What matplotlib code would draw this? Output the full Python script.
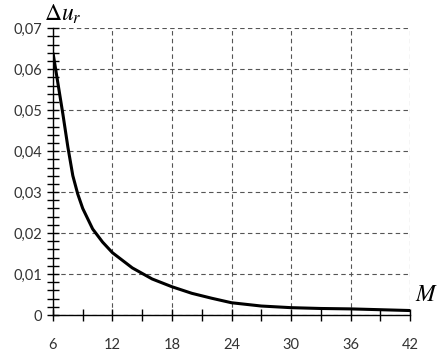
import matplotlib
matplotlib.use("Agg")
import matplotlib.pyplot as plt
from matplotlib.ticker import MultipleLocator, FuncFormatter

# значения
M = [6, 7, 7.5, 8, 8.5, 9, 10, 11, 12, 14, 16, 18, 20, 22, 24, 27, 30, 33, 36, 39, 42]
du_r = [0.064, 0.049, 0.041, 0.034, 0.0295, 0.026, 0.021, 0.0178, 0.0152, 0.0115,
        0.0088, 0.0069, 0.0053, 0.0041, 0.0030, 0.0022, 0.0018, 0.0016, 0.0015,
        0.0013, 0.0011]
x_ticks = [6, 12, 18, 24, 30, 36, 42]

plt.rcParams['font.family'] = ['Lato', 'DejaVu Sans']

fig = plt.figure(figsize=(4.39, 3.52), dpi=100)
ax = fig.add_axes([0.1207, 0.105, 0.8133, 0.815])

ax.plot(M, du_r, color='black', lw=2.2, solid_capstyle='butt')

ax.set_xlim(6, 42)
ax.set_ylim(0, 0.07)
ax.set_xticks(x_ticks)
ax.xaxis.set_minor_locator(MultipleLocator(3))
ax.yaxis.set_major_locator(MultipleLocator(0.01))
ax.yaxis.set_minor_locator(MultipleLocator(0.002))

def fmt(v, pos):
    if abs(v) < 1e-9:
        return "0"
    return f"{v:.2f}".replace(".", ",")
ax.yaxis.set_major_formatter(FuncFormatter(fmt))

ax.grid(True, which='major', color='#555555', ls=(0, (4, 3)), lw=0.8)
for s in ['top', 'right']:
    ax.spines[s].set_visible(False)
ax.spines['left'].set_linewidth(1.0)
ax.spines['bottom'].set_linewidth(1.0)

ax.tick_params(axis='y', which='both', direction='inout', length=8, width=1.0,
               labelsize=10.5, colors='black', pad=4)
ax.tick_params(axis='x', which='both', direction='inout', length=9, width=1.0,
               labelsize=10.5, pad=12)
for lbl in ax.get_yticklabels() + ax.get_xticklabels():
    lbl.set_color('#333333')

fig.text(0.10, 0.94, r'$\Delta u_r$', fontsize=17, math_fontfamily='stix')
fig.text(0.945, 0.145, r'$M$', fontsize=17, math_fontfamily='stix')

fig.savefig("out.png", dpi=100)
